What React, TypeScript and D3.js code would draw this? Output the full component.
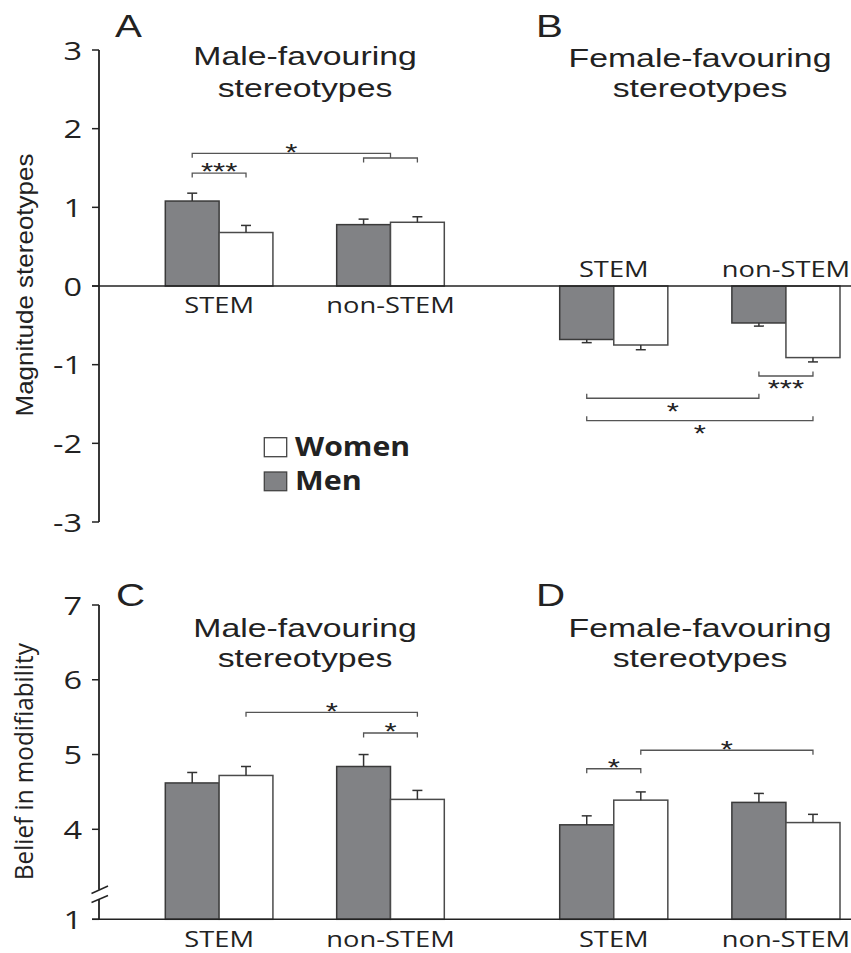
import React from "react";
import * as d3 from "d3";

const groups = ["STEM", "non-STEM"];
const sexes = ["Men", "Women"];

// Panel A: male-favouring stereotypes (magnitude)
const magMaleMen = [1.08, 0.78];
const magMaleWomen = [0.68, 0.81];
const magMaleMenErr = [0.1, 0.07];
const magMaleWomenErr = [0.09, 0.07];
// Panel B: female-favouring stereotypes (magnitude)
const magFemaleMen = [-0.68, -0.47];
const magFemaleWomen = [-0.75, -0.91];
const magFemaleMenErr = [0.04, 0.04];
const magFemaleWomenErr = [0.06, 0.055];
// Panel C: male-favouring stereotypes (belief in modifiability)
const modMaleMen = [4.62, 4.84];
const modMaleWomen = [4.72, 4.4];
const modMaleMenErr = [0.14, 0.16];
const modMaleWomenErr = [0.12, 0.12];
// Panel D: female-favouring stereotypes (belief in modifiability)
const modFemaleMen = [4.06, 4.36];
const modFemaleWomen = [4.39, 4.09];
const modFemaleMenErr = [0.12, 0.12];
const modFemaleWomenErr = [0.11, 0.11];

const magTicks = [3, 2, 1, 0, -1, -2, -3];
const modTicks = [7, 6, 5, 4, 1];

// significance brackets: a/b = [groupIndex, sexIndex] (sexIndex -1 = group centre), at = level in data units
type Sig = { a: number[]; b: number[]; at: number; endB?: number; label: string; below?: boolean };
const sigA: Sig[] = [
  { a: [0, 0], b: [0, 1], at: 1.436, label: "***" },
  { a: [1, 0], b: [1, 1], at: 1.627, label: "" },
  { a: [0, 0], b: [1, -1], at: 1.687, endB: 1.627, label: "*" },
];
const sigB: Sig[] = [
  { a: [1, 0], b: [1, 1], at: -1.144, label: "***", below: true },
  { a: [0, 0], b: [1, 0], at: -1.427, label: "*", below: true },
  { a: [0, 0], b: [1, 1], at: -1.712, label: "*", below: true },
];
const sigC: Sig[] = [
  { a: [0, 1], b: [1, 1], at: 5.565, label: "*" },
  { a: [1, 0], b: [1, 1], at: 5.288, label: "*" },
];
const sigD: Sig[] = [
  { a: [0, 0], b: [0, 1], at: 4.81, label: "*" },
  { a: [0, 1], b: [1, 1], at: 5.057, label: "*" },
];

const INK = "#222";
const MEN_FILL = "#818285";
const SX = 1.3;
const SANS = "'Liberation Sans', Arial, sans-serif";
const OPEN = "'Open Sans', 'Noto Sans', sans-serif";

const yMag = d3.scaleLinear().domain([-3, 3]).range([522, 50]);
const yMod = d3.scaleLinear().domain([1, 4, 7]).range([919.3, 829.3, 605]);
const xLeft = d3.scaleBand().domain(groups).range([165.3, 444.3]).paddingInner(0.372);
const xRight = d3.scaleBand().domain(groups).range([559.7, 840]).paddingInner(0.372);

function T(props: any) {
  const { x, y, children, size, family = OPEN, weight = "normal", anchor = "middle", sx = SX, fill = INK } = props;
  return (
    <text
      transform={`translate(${x},${y}) scale(${sx},1)`}
      textAnchor={anchor}
      fontSize={size}
      fontFamily={family}
      fontWeight={weight}
      fill={fill}
    >
      {children}
    </text>
  );
}

function Panel(props: any) {
  const { x, y, base, men, women, menErr, womenErr, sig } = props;
  const xSub = d3.scaleBand().domain(sexes).range([0, x.bandwidth()]);
  const bw = xSub.bandwidth();
  const series = [
    { vals: men, errs: women ? menErr : menErr, fill: MEN_FILL, stroke: "#3a3a3a" },
    { vals: women, errs: womenErr, fill: "#ffffff", stroke: "#4a4a4a" },
  ];
  const px = (spec: number[]) => {
    const g = groups[spec[0]];
    if (spec[1] < 0) return (x(g) as number) + x.bandwidth() / 2;
    return (x(g) as number) + (xSub(sexes[spec[1]]) as number) + bw / 2;
  };
  const y0 = y(base);
  return (
    <g>
      {series.map((s, si) =>
        groups.map((g, gi) => {
          const v = s.vals[gi];
          const bx = (x(g) as number) + (xSub(sexes[si]) as number);
          const yv = y(v);
          const sign = v >= base ? 1 : -1;
          const ye = y(v + sign * s.errs[gi]);
          const cx = bx + bw / 2;
          return (
            <g key={`${si}-${gi}`}>
              <rect
                x={bx}
                y={Math.min(yv, y0)}
                width={bw}
                height={Math.abs(y0 - yv)}
                fill={s.fill}
                stroke={s.stroke}
                strokeWidth={1.5}
              />
              <line x1={cx} x2={cx} y1={yv} y2={ye} stroke="#333" strokeWidth={1.5} />
              <line x1={cx - 5} x2={cx + 5} y1={ye} y2={ye} stroke="#333" strokeWidth={1.5} />
            </g>
          );
        })
      )}
      {sig.map((b: Sig, i: number) => {
        const xa = px(b.a);
        const xb = px(b.b);
        const yl = y(b.at);
        const dir = b.below ? -1 : 1;
        const yA = yl + dir * 4.4;
        const yB = b.endB !== undefined ? y(b.endB) : yl + dir * 4.4;
        const fs = 24;
        const cy = b.below ? yl + 8 : yl - 6;
        return (
          <g key={i}>
            <path
              d={`M${xa},${yA}V${yl}H${xb}V${yB}`}
              fill="none"
              stroke="#555"
              strokeWidth={1.3}
            />
            {b.label && (
              <T x={(xa + xb) / 2} y={cy + fs * 0.56} size={fs} family={SANS}>
                {b.label}
              </T>
            )}
          </g>
        );
      })}
    </g>
  );
}

export default function App() {
  const gc = (x: any, g: string) => (x(g) as number) + x.bandwidth() / 2;
  return (
    <svg
      width={851}
      height={953}
      style={{ position: "absolute", left: 0, top: 0, background: "#fff" }}
    >
      <rect x={0} y={0} width={851} height={953} fill="#fff" />

      {/* ---------- top axis ---------- */}
      <line x1={99} x2={99} y1={yMag(3)} y2={yMag(-3)} stroke={INK} strokeWidth={1.8} />
      {magTicks.map((t) => (
        <g key={t}>
          <line x1={92} x2={99} y1={yMag(t)} y2={yMag(t)} stroke={INK} strokeWidth={1.5} />
          <T x={82} y={yMag(t) + 9.5} size={25} anchor="end" sx={1.3}>
            {t < 0 ? `-${Math.abs(t)}` : `${t}`}
          </T>
        </g>
      ))}
      <text
        transform={`translate(33.3,285) rotate(-90)`}
        textAnchor="middle"
        fontSize={24}
        fontFamily={SANS}
        fill={INK}
        textLength={263}
        lengthAdjust="spacingAndGlyphs"
      >
        Magnitude stereotypes
      </text>

      <Panel
        x={xLeft}
        y={yMag}
        base={0}
        men={magMaleMen}
        women={magMaleWomen}
        menErr={magMaleMenErr}
        womenErr={magMaleWomenErr}
        sig={sigA}
      />
      <Panel
        x={xRight}
        y={yMag}
        base={0}
        men={magFemaleMen}
        women={magFemaleWomen}
        menErr={magFemaleMenErr}
        womenErr={magFemaleWomenErr}
        sig={sigB}
      />
      <line x1={92} x2={851} y1={yMag(0)} y2={yMag(0)} stroke={INK} strokeWidth={1.5} />

      {groups.map((g) => (
        <T key={"a" + g} x={gc(xLeft, g)} y={313.3} size={21}>
          {g}
        </T>
      ))}
      {groups.map((g) => (
        <T key={"b" + g} x={gc(xRight, g)} y={276.7} size={21}>
          {g}
        </T>
      ))}

      <T x={115} y={36.7} size={31} family={SANS} anchor="start">A</T>
      <T x={536} y={36.7} size={31} family={SANS} anchor="start">B</T>
      <T x={305} y={65} size={26} family={SANS}>Male-favouring</T>
      <T x={305} y={96.7} size={26} family={SANS}>stereotypes</T>
      <T x={700} y={66.5} size={26} family={SANS}>Female-favouring</T>
      <T x={700} y={96.7} size={26} family={SANS}>stereotypes</T>

      {/* legend */}
      <rect x={264.3} y={437.7} width={22.4} height={19} fill="#fff" stroke="#444" strokeWidth={1.3} />
      <rect x={264.3} y={472} width={22.4} height={18.7} fill={MEN_FILL} stroke="#444" strokeWidth={1.3} />
      <text x={295} y={456} fontSize={26} fontFamily={OPEN} fontWeight="bold" fill={INK} textLength={115} lengthAdjust="spacingAndGlyphs">
        {sexes[1]}
      </text>
      <text x={295} y={490} fontSize={26} fontFamily={OPEN} fontWeight="bold" fill={INK} textLength={66.7} lengthAdjust="spacingAndGlyphs">
        {sexes[0]}
      </text>

      {/* ---------- bottom axis ---------- */}
      <line x1={99} x2={99} y1={yMod(7)} y2={889.8} stroke={INK} strokeWidth={1.8} />
      <line x1={99} x2={99} y1={899} y2={yMod(1)} stroke={INK} strokeWidth={1.8} />
      <line x1={91.5} x2={108} y1={893.5} y2={886} stroke={INK} strokeWidth={1.4} />
      <line x1={91.5} x2={108} y1={902.5} y2={895.5} stroke={INK} strokeWidth={1.4} />
      {modTicks.map((t) => (
        <g key={t}>
          <line x1={92} x2={99} y1={yMod(t)} y2={yMod(t)} stroke={INK} strokeWidth={1.5} />
          <T x={82} y={yMod(t) + 9.5} size={25} anchor="end" sx={1.3}>
            {`${t}`}
          </T>
        </g>
      ))}
      <text
        transform={`translate(32.7,761.7) rotate(-90)`}
        textAnchor="middle"
        fontSize={26}
        fontFamily={OPEN}
        fill={INK}
        textLength={237}
        lengthAdjust="spacingAndGlyphs"
      >
        Belief in modifiability
      </text>

      <Panel
        x={xLeft}
        y={yMod}
        base={1}
        men={modMaleMen}
        women={modMaleWomen}
        menErr={modMaleMenErr}
        womenErr={modMaleWomenErr}
        sig={sigC}
      />
      <Panel
        x={xRight}
        y={yMod}
        base={1}
        men={modFemaleMen}
        women={modFemaleWomen}
        menErr={modFemaleMenErr}
        womenErr={modFemaleWomenErr}
        sig={sigD}
      />
      <line x1={92} x2={851} y1={yMod(1)} y2={yMod(1)} stroke={INK} strokeWidth={1.5} />

      {groups.map((g) => (
        <T key={"c" + g} x={gc(xLeft, g)} y={946.7} size={21}>
          {g}
        </T>
      ))}
      {groups.map((g) => (
        <T key={"d" + g} x={gc(xRight, g)} y={946.7} size={21}>
          {g}
        </T>
      ))}

      <T x={116} y={605.5} size={31} family={SANS} anchor="start">C</T>
      <T x={536} y={605.5} size={31} family={SANS} anchor="start">D</T>
      <T x={305} y={636.7} size={26} family={SANS}>Male-favouring</T>
      <T x={305} y={666.7} size={26} family={SANS}>stereotypes</T>
      <T x={700} y={637.3} size={26} family={SANS}>Female-favouring</T>
      <T x={700} y={666.7} size={26} family={SANS}>stereotypes</T>
    </svg>
  );
}
